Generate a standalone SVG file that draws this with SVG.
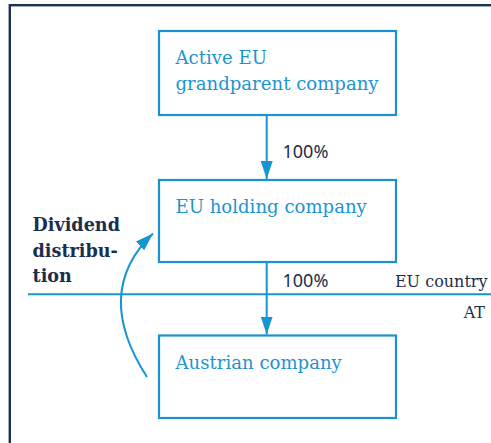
<svg xmlns="http://www.w3.org/2000/svg" width="491" height="443" viewBox="0 0 491 443">
  <style>
    .box { fill: #ffffff; stroke: #1a92cf; stroke-width: 2.2; }
    .lbl { font-family: "DejaVu Serif", "Liberation Serif", serif; font-size: 18.1px; fill: #1c95cf; }
    .dark { font-family: "DejaVu Serif", "Liberation Serif", serif; font-size: 16px; fill: #1d2d4c; }
    .bold { font-family: "DejaVu Serif", "Liberation Serif", serif; font-size: 17.6px; font-weight: bold; fill: #1d2d4c; }
    .pct { font-family: "Noto Sans", "Open Sans", sans-serif; font-size: 18px; fill: #1d2d4c; }
    .wire { fill: none; stroke: #1596d2; stroke-width: 2; }
  </style>
  <defs>
    <marker id="head" markerUnits="userSpaceOnUse" markerWidth="20" markerHeight="14" refX="18" refY="6" orient="auto">
      <path d="M0,0 L18,6 L0,12 Z" fill="#1596d2"/>
    </marker>
  </defs>

  <rect width="491" height="443" fill="#ffffff"/>

  <!-- outer frame, open past the right and bottom edges -->
  <rect x="9.8" y="5.2" width="500" height="470" fill="none" stroke="#1d3152" stroke-width="2.4"/>

  <!-- border between the EU country and Austria -->
  <line x1="28" y1="294.3" x2="491" y2="294.3" stroke="#1596d2" stroke-width="2"/>
  <text class="dark" x="487.5" y="287" text-anchor="end">EU country</text>
  <text class="dark" x="485" y="318" text-anchor="end">AT</text>

  <g id="connectors">
    <line class="wire" x1="266.7" y1="115" x2="266.7" y2="179" marker-end="url(#head)"/>
    <line class="wire" x1="266.7" y1="262" x2="266.7" y2="334.5" marker-end="url(#head)"/>
    <path class="wire" d="M147,377 Q92,292 153,233.5" marker-end="url(#head)"/>
    <text class="pct" x="282.5" y="158">100%</text>
    <text class="pct" x="282.5" y="287">100%</text>
    <text class="bold" x="32.5" y="230.5">Dividend</text>
    <text class="bold" x="32.5" y="256.5">distribu-</text>
    <text class="bold" x="32.5" y="281.5">tion</text>
  </g>

  <g id="grandparent">
    <rect class="box" x="159" y="31" width="237" height="84"/>
    <text class="lbl" x="175.5" y="64">Active EU</text>
    <text class="lbl" x="175.5" y="90">grandparent company</text>
  </g>

  <g id="holding">
    <rect class="box" x="159" y="180" width="237" height="82"/>
    <text class="lbl" x="175.5" y="212.5">EU holding company</text>
  </g>

  <g id="austrian">
    <rect class="box" x="159" y="335.5" width="237" height="82.5"/>
    <text class="lbl" x="175.5" y="368.5">Austrian company</text>
  </g>
</svg>
